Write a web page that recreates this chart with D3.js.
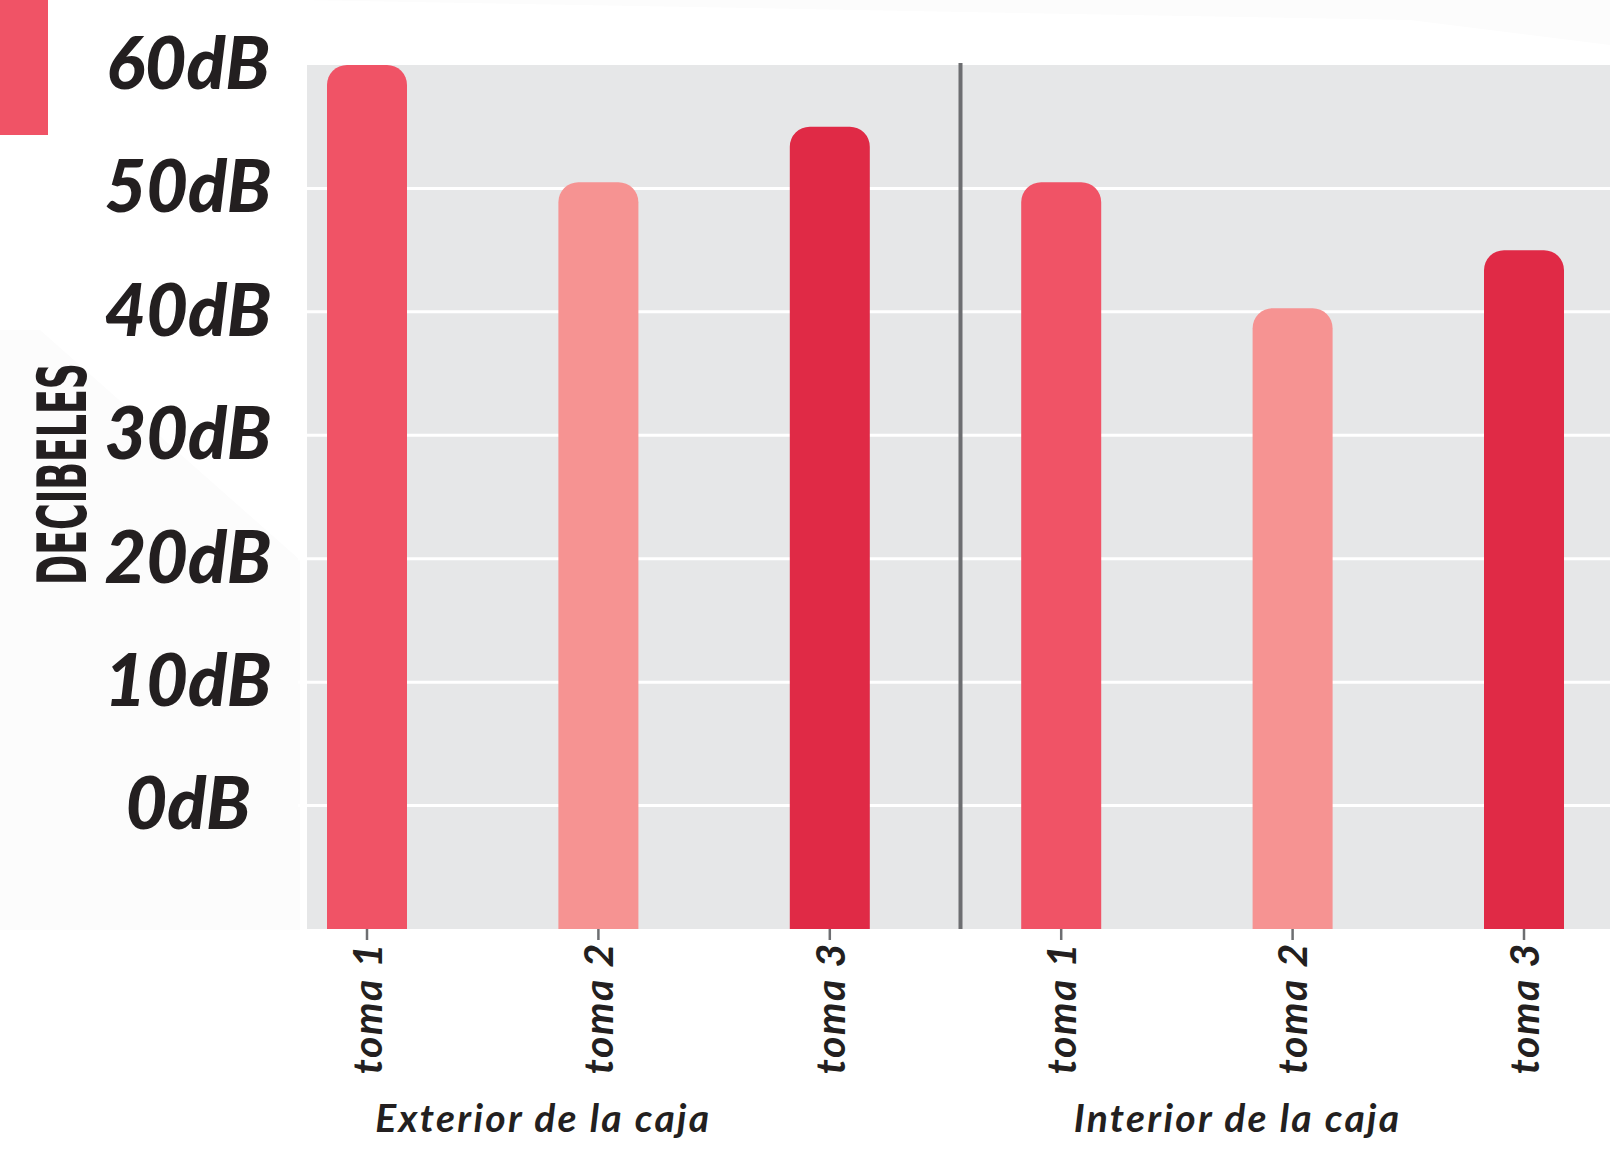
<!DOCTYPE html>
<html lang="es">
<head>
<meta charset="utf-8">
<title>Decibeles: exterior e interior de la caja</title>
<script src="https://cdn.jsdelivr.net/npm/d3@7/dist/d3.min.js"></script>
<style>
  html, body { margin: 0; padding: 0; background: #ffffff; }
  svg { display: block; }
  .tick-label { font-family: Lato, "Open Sans", sans-serif; font-style: italic; font-weight: 900; fill: #231f20; }
  .cat-label { font-family: Lato, "Open Sans", sans-serif; font-style: italic; font-weight: 700; fill: #231f20; }
  .group-label { font-family: Lato, "Open Sans", sans-serif; font-style: italic; font-weight: 700; fill: #231f20; }
  .axis-title { font-family: "Liberation Sans Narrow", "DejaVu Sans Condensed", sans-serif; font-weight: 700; fill: #231f20; }
</style>
</head>
<body>
<svg id="chart" width="1610" height="1157"></svg>
<script>
// Measurement groups and the three takes recorded in each
const groups = ["Exterior de la caja", "Interior de la caja"];
const takes = ["toma 1", "toma 2", "toma 3"];

// Sound level per take, in decibels
const exteriorDb = [60, 50.5, 55];
const interiorDb = [50.5, 40.3, 45];

// Y axis ticks and the value at the floor of the plot
const yTicks = [0, 10, 20, 30, 40, 50, 60];
const yFloor = -10;
const yTop = 60;

const takeColors = ["#f05366", "#f69392", "#e02a46"];

const W = 1610, H = 1157;
const plot = { left: 307, right: 1610, top: 65, bottom: 929 };
const barWidth = 80;
const barRadius = 20;

const svg = d3.select("#chart");

// very faint diagonal sheen in the page background
const sheen = svg.append("g").attr("fill", "#fcfcfc");
sheen.append("path").attr("d", `M40,330 L300,560 L300,930 L0,930 L0,330 Z`);
sheen.append("path").attr("d", `M130,0 L1610,0 L1610,45 L1410,20 L300,0 Z`);

// corner accent
svg.append("rect").attr("x", 0).attr("y", 0).attr("width", 48).attr("height", 135).attr("fill", "#f05366");

// one row per bar, flattened from the two groups
const rows = [];
groups.forEach((g, gi) => {
  const vals = gi === 0 ? exteriorDb : interiorDb;
  takes.forEach((t, ti) => rows.push({ group: g, take: t, ti, key: g + "|" + t, value: vals[ti] }));
});

const x = d3.scalePoint()
  .domain(rows.map(d => d.key))
  .range([plot.left + 60, plot.right - 86]);

const y = d3.scaleLinear()
  .domain([yFloor, yTop])
  .range([plot.bottom, plot.top]);

// plot background
svg.append("rect")
  .attr("x", plot.left).attr("y", plot.top)
  .attr("width", plot.right - plot.left).attr("height", plot.bottom - plot.top)
  .attr("fill", "#e6e7e8");

// horizontal grid
svg.append("g")
  .selectAll("line")
  .data(yTicks.filter(v => v < yTop))
  .join("line")
  .attr("x1", plot.left - 9).attr("x2", plot.right)
  .attr("y1", d => y(d)).attr("y2", d => y(d))
  .attr("stroke", "#ffffff").attr("stroke-width", 3);

// y tick labels
svg.append("g")
  .selectAll("text")
  .data(yTicks)
  .join("text")
  .attr("class", "tick-label")
  .attr("x", 188)
  .attr("y", d => y(d) - 2)
  .attr("dy", "0.36em")
  .attr("text-anchor", "middle")
  .attr("font-size", 72)
  .text(d => d + "dB");

// y axis title
svg.append("text")
  .attr("class", "axis-title")
  .attr("transform", "translate(86,474) rotate(-90)")
  .attr("text-anchor", "middle")
  .attr("font-size", 68)
  .attr("textLength", 222)
  .attr("lengthAdjust", "spacingAndGlyphs")
  .text("DECIBELES");

// bars with rounded tops
function roundedTop(x0, y0, w, h, r) {
  const rr = Math.min(r, h);
  return `M${x0},${y0 + h}V${y0 + rr}A${rr},${rr} 0 0 1 ${x0 + rr},${y0}` +
         `H${x0 + w - rr}A${rr},${rr} 0 0 1 ${x0 + w},${y0 + rr}V${y0 + h}Z`;
}

svg.append("g")
  .selectAll("path")
  .data(rows)
  .join("path")
  .attr("d", d => roundedTop(x(d.key) - barWidth / 2, y(d.value), barWidth, y(yFloor) - y(d.value), barRadius))
  .attr("fill", d => takeColors[d.ti]);

// divider between the two groups
const mid = (plot.left + plot.right) / 2 + 2;
svg.append("line")
  .attr("x1", mid).attr("x2", mid)
  .attr("y1", plot.top - 2).attr("y2", plot.bottom)
  .attr("stroke", "#6d6e71").attr("stroke-width", 4);

// x axis ticks and rotated take labels
const xg = svg.append("g").attr("transform", `translate(0,${plot.bottom})`);
xg.selectAll("line")
  .data(rows)
  .join("line")
  .attr("x1", d => x(d.key)).attr("x2", d => x(d.key))
  .attr("y1", 0).attr("y2", 11)
  .attr("stroke", "#6d6e71").attr("stroke-width", 2.5);

xg.selectAll("text")
  .data(rows)
  .join("text")
  .attr("class", "cat-label")
  .attr("transform", d => `translate(${x(d.key)},${13}) rotate(-90)`)
  .attr("text-anchor", "end")
  .attr("dy", "0.36em")
  .attr("font-size", 41)
  .attr("letter-spacing", 1.6)
  .text(d => d.take);

// group labels under each set of takes
svg.append("g")
  .selectAll("text")
  .data(groups)
  .join("text")
  .attr("class", "group-label")
  .attr("x", g => x(g + "|" + takes[1]) - 55)
  .attr("y", 1132)
  .attr("text-anchor", "middle")
  .attr("font-size", 39)
  .attr("letter-spacing", 2.3)
  .text(g => g);
</script>
</body>
</html>
